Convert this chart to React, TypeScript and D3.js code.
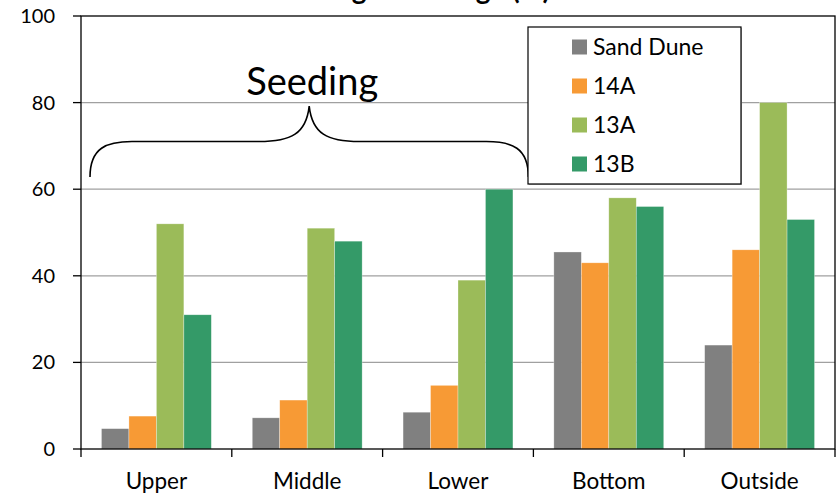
import React from "react";
import * as d3 from "d3";

const categories = ["Upper", "Middle", "Lower", "Bottom", "Outside"];
const seriesNames = ["Sand Dune", "14A", "13A", "13B"];
const sandDune = [4.7, 7.2, 8.5, 45.5, 24];
const a14 = [7.6, 11.3, 14.7, 43, 46];
const a13 = [52, 51, 39, 58, 80];
const b13 = [31, 48, 60, 56, 53];
const seriesValues = [sandDune, a14, a13, b13];
const colors = ["#808080", "#F79A35", "#9BBB59", "#349A68"];
const yTicks = [0, 20, 40, 60, 80, 100];
const titleText = "Average Coverage (%)";
const braceLabel = "Seeding";
const braceFrom = "Upper";
const braceTo = "Lower";
const braceLevels = [62.8, 71, 79.2]; // ends, shoulder, peak (data units)

const W = 836;
const H = 496;
const M = { left: 81, right: 835, top: 16, bottom: 449 };
const FONT = "Lato, 'Open Sans', sans-serif";

export default function App() {
  const x = d3.scaleBand<string>().domain(categories).range([M.left, M.right]).paddingInner(0).paddingOuter(0);
  const inner = d3.scaleBand<number>().domain(d3.range(seriesNames.length)).range([0, x.bandwidth()]).paddingOuter(0.745).paddingInner(0);
  const y = d3.scaleLinear().domain([0, 100]).range([M.bottom, M.top]);

  const bx0 = (x(braceFrom) as number) + 9;
  const bx1 = (x(braceTo) as number) + x.bandwidth() - 5;
  const bm = (bx0 + bx1) / 2;
  const yEnd = y(braceLevels[0]);
  const yMid = y(braceLevels[1]);
  const yPeak = y(braceLevels[2]);
  const r = 42;
  const brace = d3.path();
  brace.moveTo(bx0, yEnd);
  brace.bezierCurveTo(bx0, yMid + 6, bx0 + r * 0.4, yMid, bx0 + r, yMid);
  brace.lineTo(bm - r * 1.2, yMid);
  brace.bezierCurveTo(bm - 18, yMid, bm - 3, yMid - 8, bm, yPeak);
  brace.bezierCurveTo(bm + 3, yMid - 8, bm + 18, yMid, bm + r * 1.2, yMid);
  brace.lineTo(bx1 - r, yMid);
  brace.bezierCurveTo(bx1 - r * 0.4, yMid, bx1, yMid + 6, bx1, yEnd);

  const legX = 528, legY = 27, legW = 213, legH = 157;

  return (
    <svg width={W} height={H} style={{ position: "absolute", left: 0, top: 0, overflow: "hidden", background: "#fff" }} fontFamily={FONT}>
      <rect x={0} y={0} width={W} height={H} fill="#fff" />
      <text x={415} y={-1} textAnchor="middle" fontSize={28} fontWeight="bold" fill="#000">{titleText}</text>
      {yTicks.filter(t => t > 0 && t < 100).map(t => (
        <line key={t} x1={M.left} x2={M.right} y1={y(t)} y2={y(t)} stroke="#a0a0a0" strokeWidth={1.3} />
      ))}
      {seriesValues.map((vals, si) =>
        vals.map((v, ci) => (
          <rect key={si + "-" + ci}
            x={(x(categories[ci]) as number) + (inner(si) as number)}
            y={y(v)}
            width={inner.bandwidth()}
            height={y(0) - y(v)}
            fill={colors[si]}
            stroke="rgba(255,255,255,0.5)" strokeWidth={0.6} />
        ))
      )}
      <rect x={M.left} y={M.top} width={M.right - M.left} height={M.bottom - M.top} fill="none" stroke="#000" strokeWidth={1.3} />
      {yTicks.map(t => (
        <g key={t}>
          <line x1={M.left - 8} x2={M.left} y1={y(t)} y2={y(t)} stroke="#000" strokeWidth={1.3} />
          <text x={55} y={y(t)} dy="0.35em" textAnchor="end" fontSize={20} fill="#000">{t}</text>
        </g>
      ))}
      {categories.map(c => (
        <text key={c} x={(x(c) as number) + x.bandwidth() / 2} y={489} textAnchor="middle" fontSize={22.5} fill="#000">{c}</text>
      ))}
      {[...categories.map(c => x(c) as number), M.right].map((px, i) => (
        <line key={i} x1={px} x2={px} y1={M.bottom} y2={M.bottom + 8} stroke="#000" strokeWidth={1.3} />
      ))}
      <path d={brace.toString()} fill="none" stroke="#000" strokeWidth={1.6} />
      <text x={bm + 3} y={95} textAnchor="middle" fontSize={38} fill="#000">{braceLabel}</text>
      <rect x={legX + 1} y={legY + 1} width={legW} height={legH} fill="#bbb" />
      <rect x={legX} y={legY} width={legW} height={legH} fill="#fff" stroke="#000" strokeWidth={1.2} />
      {seriesNames.map((n, i) => {
        const cy = 47 + i * 39;
        return (
          <g key={n}>
            <rect x={572} y={cy - 7.5} width={15} height={15} fill={colors[i]} />
            <text x={593} y={cy} dy="0.36em" fontSize={23} fill="#000">{n}</text>
          </g>
        );
      })}
    </svg>
  );
}
